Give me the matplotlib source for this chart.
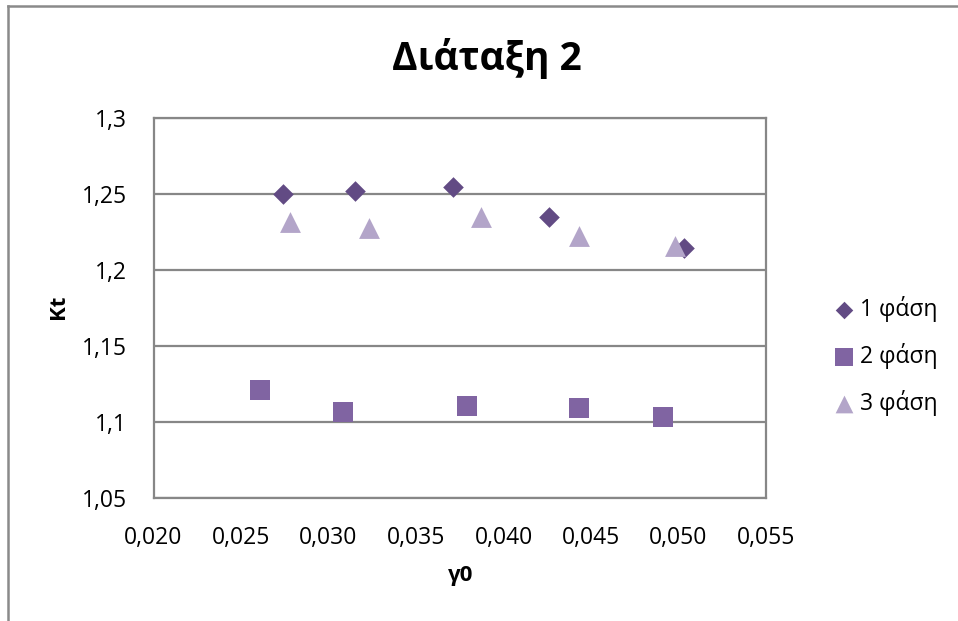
import matplotlib
matplotlib.use("Agg")
import matplotlib.pyplot as plt
from matplotlib.lines import Line2D
from matplotlib.ticker import FuncFormatter, MultipleLocator

plt.rcParams['font.family'] = ['Open Sans', 'DejaVu Sans']

# Measurements for each phase: γ0 vs Kt
x_phase1 = [0.0274, 0.0315, 0.0371, 0.0426, 0.0503]
y_phase1 = [1.2498, 1.2520, 1.2541, 1.2349, 1.2143]

x_phase2 = [0.0261, 0.0308, 0.0379, 0.0443, 0.0491]
y_phase2 = [1.1209, 1.1066, 1.1105, 1.1094, 1.1035]

x_phase3 = [0.0278, 0.0323, 0.0387, 0.0443, 0.0498]
y_phase3 = [1.2316, 1.2276, 1.2344, 1.2224, 1.2158]

series_labels = ['1 φάση', '2 φάση', '3 φάση']
title_text = 'Διάταξη 2'
x_label = 'γ0'
y_label = 'Kt'

W, H = 958, 621
fig = plt.figure(figsize=(W / 100, H / 100), dpi=100)
fig.patch.set_facecolor('white')

# outer chart frame (left and top edges)
frame_col = '#8a8a8a'
fig.add_artist(Line2D([7.5 / W, 7.5 / W], [0, 1 - 5.5 / H], transform=fig.transFigure,
                      color=frame_col, linewidth=1.8))
fig.add_artist(Line2D([7.5 / W, 1], [1 - 5.5 / H, 1 - 5.5 / H], transform=fig.transFigure,
                      color=frame_col, linewidth=1.8))

ax = fig.add_axes([153.5 / W, 1 - 498 / H, (766 - 153.5) / W, (498 - 117.5) / H])

grid_col = '#878787'
ax.scatter(x_phase1, y_phase1, marker='D', s=10.5 ** 2, color='#624B84',
           linewidths=0, label=series_labels[0], zorder=3)
ax.scatter(x_phase2, y_phase2, marker='s', s=14.8 ** 2, color='#8064A2',
           linewidths=0, label=series_labels[1], zorder=3)
ax.scatter(x_phase3, y_phase3, marker='^', s=15 ** 2, color='#B3A5C9',
           linewidths=0, label=series_labels[2], zorder=4)

ax.set_xlim(0.020, 0.055)
ax.set_ylim(1.05, 1.30)
ax.xaxis.set_major_locator(MultipleLocator(0.005))
ax.yaxis.set_major_locator(MultipleLocator(0.05))
ax.xaxis.set_major_formatter(FuncFormatter(lambda v, p: f"{v:.3f}".replace('.', ',')))


def yfmt(v, p):
    s = f"{v:.2f}".rstrip('0').rstrip('.')
    return s.replace('.', ',')


ax.yaxis.set_major_formatter(FuncFormatter(yfmt))
ax.tick_params(axis='both', length=0, labelsize=16.5, colors='black')
ax.tick_params(axis='x', pad=20)
ax.tick_params(axis='y', pad=19)

ax.grid(axis='y', color=grid_col, linewidth=1.6)
ax.set_axisbelow(True)
for sp in ax.spines.values():
    sp.set_color(grid_col)
    sp.set_linewidth(1.6)

fig.text(487 / W, 1 - 70 / H, title_text, ha='center', va='baseline',
         fontsize=28, fontweight='bold')
fig.text(461 / W, 1 - 576 / H, x_label, ha='center', va='center',
         fontsize=16, fontweight='bold')
fig.text(58 / W, 1 - 307 / H, y_label, ha='center', va='center',
         fontsize=16, fontweight='bold', rotation=90)

leg = ax.legend(loc='center left', bbox_to_anchor=(836 / W, 1 - 356 / H),
                bbox_transform=fig.transFigure, frameon=False, fontsize=16.5,
                markerscale=0.85, handlelength=0.7, handletextpad=0.35,
                labelspacing=0.9, borderaxespad=0, borderpad=0)

fig.savefig('out.png', dpi=100, facecolor='white')
